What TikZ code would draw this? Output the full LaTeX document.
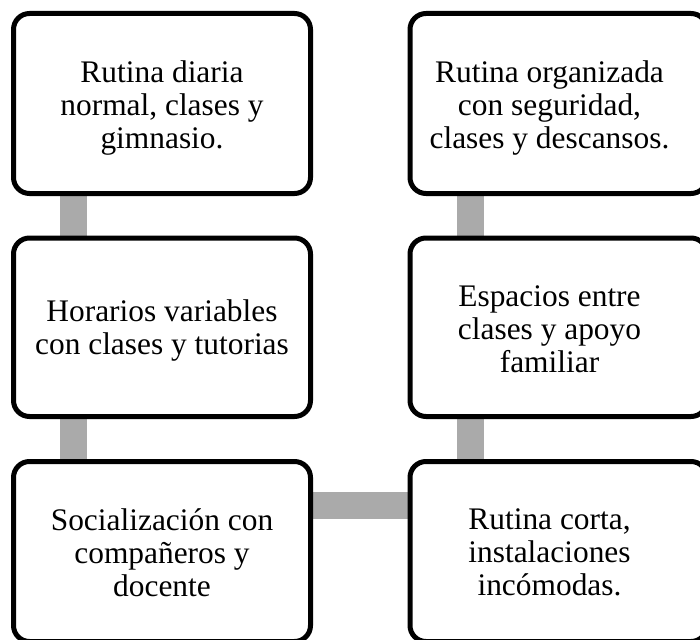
\documentclass[tikz,border=0pt]{standalone}
\usepackage{fontspec}
\setmainfont{Liberation Serif}
\usetikzlibrary{calc,backgrounds}
\definecolor{conngray}{RGB}{170,170,170}
\begin{document}
\begin{tikzpicture}[x=1pt,y=-1pt,
  box/.style={draw=black, line width=5pt, rounded corners=16pt, inner sep=0pt, outer sep=0pt,
    minimum width=297pt, minimum height=180pt},
  txt/.style={align=center, inner sep=0pt, font=\fontsize{31.4}{33}\selectfont},
  conn/.style={draw=conngray, line width=27pt}]
\useasboundingbox (0,0) rectangle (700,639);
\clip (0,0) rectangle (700,639);
% left column
\node[box] (l1) at (162,103.5) {};
\node[box, minimum height=178.5pt] (l2) at (162,327.25) {};
\node[box] (l3) at (162,551.5) {};
% right column
\node[box] (r1) at (558.5,103.5) {};
\node[box, minimum height=178.5pt] (r2) at (558.5,327.25) {};
\node[box] (r3) at (558.5,551.5) {};
% texts
\node[txt] (tl1) at ($(l1.center)+(0,4)$) {Rutina diaria\\normal, clases y\\gimnasio.};
\node[txt] (tl2) at ($(l2.center)+(0,3)$) {Horarios variables\\con clases y tutorias};
\node[txt] (tl3) at ($(l3.center)+(0,1)$) {Socialización con\\compañeros y\\docente};
\node[txt] (tr1) at ($(r1.center)+(-9,4)$) {Rutina organizada\\con seguridad,\\clases y descansos.};
\node[txt] (tr2) at ($(r2.center)+(-9,2)$) {Espacios entre\\clases y apoyo\\familiar};
\node[txt] (tr3) at ($(r3.center)+(-9,1)$) {Rutina corta,\\instalaciones\\incómodas.};
% connectors
\begin{scope}[on background layer]
\draw[conn] ($(l1.south west)+(60,0)$) -- ($(l2.north west)+(60,0)$);
\draw[conn] ($(l2.south west)+(60,0)$) -- ($(l3.north west)+(60,0)$);
\draw[conn] ($(r1.south west)+(60,0)$) -- ($(r2.north west)+(60,0)$);
\draw[conn] ($(r2.south west)+(60,0)$) -- ($(r3.north west)+(60,0)$);
\draw[conn] ($(l3.north east)+(0,43.5)$) -- ($(r3.north west)+(0,43.5)$);
\end{scope}
\end{tikzpicture}
\end{document}
